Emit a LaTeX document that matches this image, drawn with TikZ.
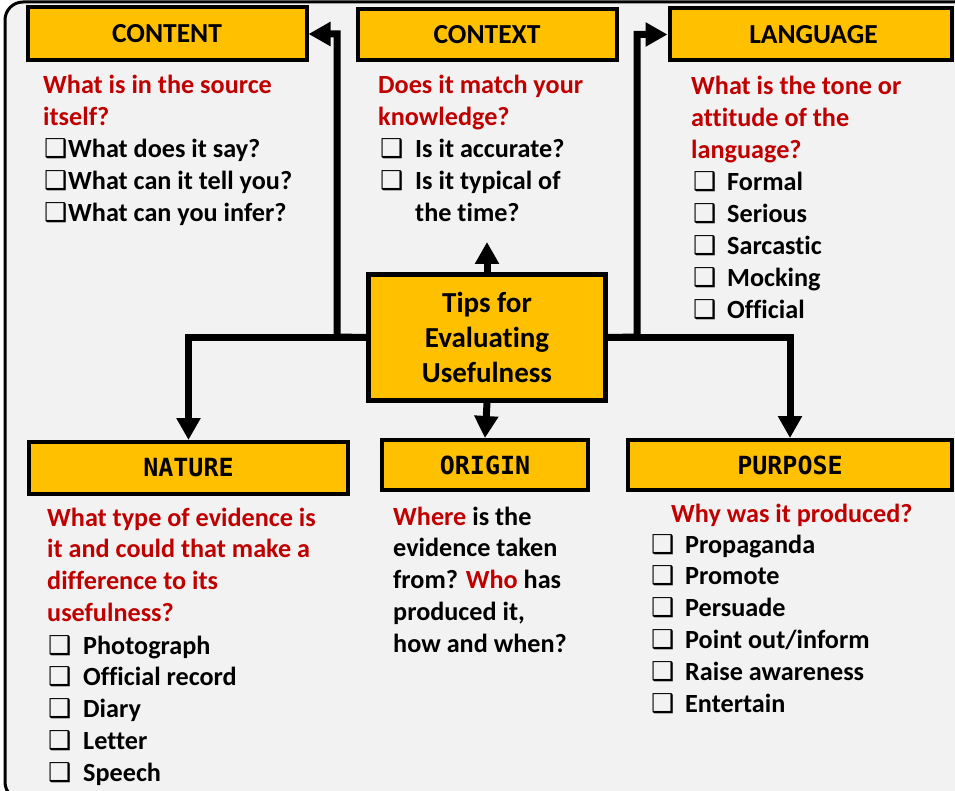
\documentclass[tikz,border=0pt]{standalone}
\usepackage{fontspec}
\setmainfont{Carlito}[Ligatures=NoCommon]
\newfontfamily\hdrmono{DejaVu Sans Mono}
\newfontfamily\cbfont{DejaVu Sans}
\usetikzlibrary{arrows.meta}
\definecolor{boxorange}{HTML}{FFC000}
\definecolor{qred}{HTML}{C00000}
\definecolor{bgpanel}{HTML}{F2F2F2}
\newcommand{\cb}[1]{\makebox[#1][l]{\cbfont\fontsize{26}{26}\selectfont ❑}}
\newcommand{\bodyfnt}{\bfseries\fontsize{26.2}{31.8}\selectfont}
\begin{document}
\begin{tikzpicture}[x=1pt,y=-1pt,
  hdrbox/.style={draw=black, line width=4pt, fill=boxorange, inner sep=0pt},
  hdrsans/.style={hdrbox, font=\bfseries\fontsize{27.5}{27.5}\selectfont},
  hdrmonostyle/.style={hdrbox, font=\hdrmono\bfseries\fontsize{25}{25}\selectfont},
  hubbox/.style={draw=black, line width=5pt, fill=boxorange, inner sep=0pt, align=center,
    font=\bfseries\fontsize{29}{35}\selectfont},
  txt/.style={inner sep=0pt, anchor=base west, font=\bodyfnt},
  arr/.style={line width=7pt, -{Triangle[length=22pt,width=23pt]}}
]
\useasboundingbox (0,0) rectangle (955,791);
\fill[white] (0,0) rectangle (955,791);
\draw[line width=3pt, fill=bgpanel, rounded corners=18pt] (5,2) rectangle (1010,800);

% header boxes
\node[hdrsans, minimum width=279pt, minimum height=53pt] (content) at (167,34) {CONTENT};
\node[hdrsans, minimum width=259pt, minimum height=51pt] (context) at (487,35) {CONTEXT};
\node[hdrsans, minimum width=282pt, minimum height=52pt] (language) at (810.5,34.5) {\hspace*{6pt}LANGUAGE};
\node[hdrmonostyle, minimum width=319pt, minimum height=52pt] (nature) at (188.5,468) {NATURE};
\node[hdrmonostyle, minimum width=206pt, minimum height=50pt] (origin) at (485,465) {ORIGIN};
\node[hdrmonostyle, minimum width=324pt, minimum height=50pt] (purpose) at (790,465) {PURPOSE};

% hub
\node[hubbox, minimum width=237pt, minimum height=126pt] (hub) at (487,337.5) {Tips for\\Evaluating\\Usefulness};

% connectors
\coordinate (jl) at (337,337);
\coordinate (jr) at (637,337);
\coordinate (uptip) at (487,242);
\draw[arr] (hub.west) -- (jl) -- (jl |- content.east) -- (content.east);
\draw[arr] (hub.west) -| (nature.north);
\draw[arr] (hub.east) -- (jr) -- (jr |- language.west) -- (language.west);
\draw[arr] (hub.east) -| (purpose.north);
\draw[arr] (hub.north) -- (uptip);
\draw[arr] (hub.south) -- (origin.north);

% CONTENT text
\node[txt] (contentq) at (43,94) {\parbox[t]{300pt}{\leavevmode\color{qred}What is in the source\\itself?}};
\node[txt] (contentl) at (44,158) {\parbox[t]{300pt}{\cb{24pt}What does it say?\\\cb{24pt}What can it tell you?\\\cb{24pt}What can you infer?}};

% CONTEXT text
\node[txt] (contextq) at (378,94) {\parbox[t]{300pt}{\leavevmode\color{qred}Does it match your\\knowledge?}};
\node[txt] (contextl) at (380,158) {\parbox[t]{300pt}{\cb{35pt}Is it accurate?\\\cb{35pt}Is it typical of\\\hspace*{35pt}the time?}};

% LANGUAGE text
\node[txt] (languageq) at (691,95) {\parbox[t]{300pt}{\leavevmode\color{qred}What is the tone or\\attitude of the\\language?}};
\node[txt] (languagel) at (693,191) {\parbox[t]{300pt}{\cb{34pt}Formal\\\cb{34pt}Serious\\\cb{34pt}Sarcastic\\\cb{34pt}Mocking\\\cb{34pt}Official}};

% NATURE text
\node[txt] (natureq) at (47,526) {\parbox[t]{320pt}{\leavevmode\color{qred}What type of evidence is\\it and could that make a\\difference to its\\usefulness?}};
\node[txt] (naturel) at (48,654) {\parbox[t]{300pt}{\cb{35pt}Photograph\\\cb{35pt}Official record\\\cb{35pt}Diary\\\cb{35pt}Letter\\\cb{35pt}Speech}};

% ORIGIN text
\node[txt] (origint) at (393,525) {\parbox[t]{300pt}{\textcolor{qred}{Where} is the\\evidence taken\\from? \textcolor{qred}{Who} has\\produced it,\\how and when?}};

% PURPOSE text
\node[txt] (purposeq) at (671,522) {\parbox[t]{300pt}{\leavevmode\color{qred}Why was it produced?}};
\node[txt] (purposel) at (651,553) {\parbox[t]{300pt}{\cb{34pt}Propaganda\\\cb{34pt}Promote\\\cb{34pt}Persuade\\\cb{34pt}Point out/inform\\\cb{34pt}Raise awareness\\\cb{34pt}Entertain}};
\end{tikzpicture}
\end{document}
